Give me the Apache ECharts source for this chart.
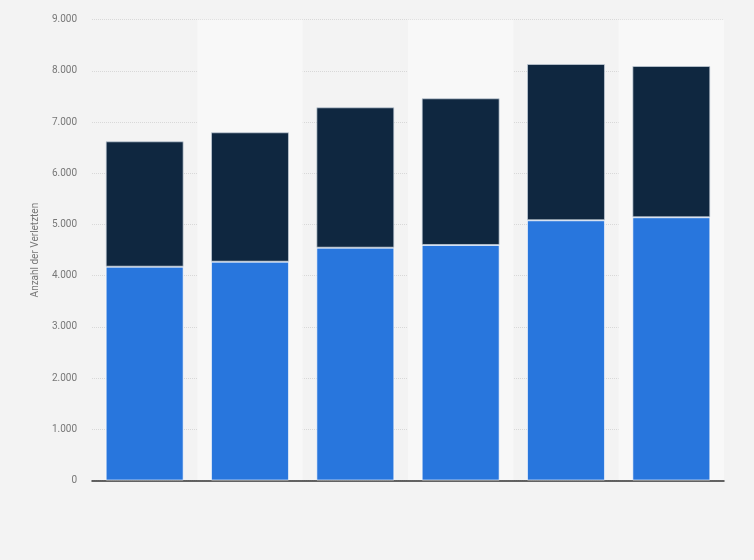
<!DOCTYPE html>
<html>
<head>
<meta charset="utf-8">
<script src="https://cdn.jsdelivr.net/npm/echarts@6/dist/echarts.min.js"></script>
<style>
html,body{margin:0;padding:0;background:#f4f4f4;}
#c{width:754px;height:560px;}
</style>
</head>
<body>
<div id="c"></div>
<script>
const categories = ['1', '2', '3', '4', '5', '6'];
const seriesBlue = [4176, 4273, 4547, 4600, 5082, 5141];
const seriesDark = [2449, 2528, 2742, 2865, 3053, 2955];
const yAxisName = 'Anzahl der Verletzten';

const chart = echarts.init(document.getElementById('c'));
chart.setOption({
  backgroundColor: '#f3f3f3',
  animation: false,
  grid: { left: 92, right: 30, top: 19.7, bottom: 79.5, containLabel: false },
  xAxis: {
    type: 'category',
    data: categories,
    axisLine: { show: true, lineStyle: { color: '#333', width: 1.5 } },
    axisTick: { show: false },
    axisLabel: { show: false },
    splitArea: { show: true, areaStyle: { color: ['rgba(0,0,0,0)', '#f8f8f8'] } }
  },
  yAxis: {
    type: 'value',
    min: 0, max: 9000, interval: 1000,
    name: yAxisName,
    nameLocation: 'middle',
    nameGap: 44,
    nameTextStyle: { color: '#777', fontSize: 10, fontFamily: 'Roboto' },
    axisLine: { show: false },
    axisTick: { show: false },
    axisLabel: {
      color: '#777', fontSize: 10, fontFamily: 'Roboto', margin: 15,
      formatter: v => v.toString().replace(/\B(?=(\d{3})+(?!\d))/g, '.')
    },
    splitLine: { show: true, lineStyle: { color: '#d8d8d8', type: [1, 1], width: 1 } }
  },
  series: [
    {
      type: 'bar', stack: 'a', data: seriesBlue, barWidth: '74%',
      itemStyle: { color: '#2876dd', borderColor: 'rgba(255,255,255,0.6)', borderWidth: 1 }
    },
    {
      type: 'bar', stack: 'a', data: seriesDark, barWidth: '74%',
      itemStyle: { color: '#0f2740', borderColor: 'rgba(200,210,220,0.7)', borderWidth: 1 }
    }
  ]
});
</script>
</body>
</html>
